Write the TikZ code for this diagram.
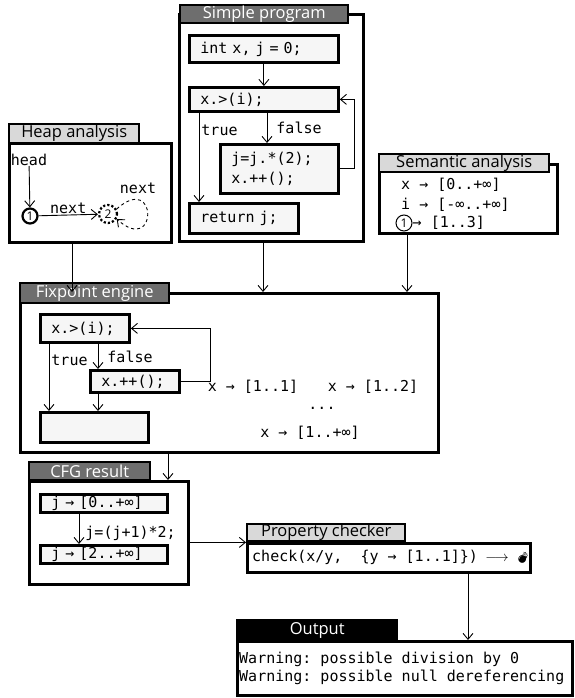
\documentclass[tikz,border=0pt]{standalone}
\usepackage{fontspec}
\setmainfont{Open Sans}
\setmonofont{DejaVu Sans Mono}
\newfontfamily\bombfont{Noto Emoji}
\usepackage{tikz}
\usetikzlibrary{arrows.meta,calc,positioning}

\definecolor{darktab}{HTML}{6E6E6E}
\definecolor{lighttab}{HTML}{D9D9D9}
\definecolor{boxfill}{HTML}{F6F6F6}

\newcommand{\code}{\ttfamily\fontsize{15}{20}\selectfont}

\tikzset{
  frame/.style={draw, fill=white, line width=2.8pt, anchor=north west, inner sep=0pt},
  tab/.style={draw, line width=2.4pt, anchor=north west, inner sep=0pt,
              font=\fontsize{16.5}{16.5}\selectfont},
  darktab/.style={tab, fill=darktab, text=white},
  lighttab/.style={tab, fill=lighttab},
  blacktab/.style={tab, fill=black, text=white},
  stmt/.style={draw, line width=2.8pt, fill=boxfill, anchor=north west,
               inner xsep=11pt, inner ysep=0pt, align=left, font=\code},
  txt/.style={inner sep=0pt, font=\code},
  num/.style={circle, draw, inner sep=0pt, font=\fontsize{12}{12}\selectfont},
  conn/.style={->, line width=0.9pt},
}

\begin{document}
\begin{tikzpicture}[x=1pt, y=-1pt, >={Straight Barb[length=6pt,width=10pt]}]
%
  \useasboundingbox (0,0) rectangle (574,698) ;
%
  % Simple program
  \node [frame, minimum width=184, minimum height=227] (simple) at (178,13) {} ;
  \node [darktab, minimum width=168, minimum height=18] (stab) at (179,4) {Simple program} ;
  \node [stmt, text width=127, minimum height=27] (sinit) at (188,34) {int x, j = 0;} ;
  \node [stmt, text width=127, minimum height=24] (scond) at (188,86) {x.>(i);} ;
  \node [stmt, text width=96, minimum height=49] (sbody) at (219,143) {j=j.*(2);\\x.++();} ;
  \node [stmt, text width=87, minimum height=30] (sret) at (188,202) {return j;} ;
%
  \draw [conn] (sinit) -- (scond) ;
  \draw [conn] (scond.south -| 267,0) -- (sbody.north -| 267,0) node [midway,right=9pt,txt] {false} ;
  \draw [conn] (scond.south -| 199,0) -- (sret.north -| 199,0) node [pos=0.2,right=2pt,txt] {true} ;
  \draw [conn] (sbody.east) -- ++(15,0) |- (scond.east) ;
%
  % Heap analysis
  \node [frame, minimum width=162, minimum height=99] (heap) at (8,142) {} ;
  \node [lighttab, minimum width=130, minimum height=19] (htab) at (8,123) {Heap analysis} ;
  \node [txt] (head) at (29,160) {head} ;
  \node [num, line width=2.2pt, minimum size=15] (n1) at (30,216) {1} ;
  \node [num, dotted, line width=2.2pt, minimum size=18] (n2) at (108,214) {2} ;
  \node [txt] (nloop) at (138,188) {next} ;
%
  \draw [conn] (head) -- (n1) ;
  \draw [conn] (n1) -- (n2) node [midway,above=1pt,txt] {next} ;
  \draw [conn, dashed] (n2.30) .. controls (158,172) and (158,256) .. (n2.-30) ;
%
  % Semantic analysis
  \node [frame, minimum width=178, minimum height=69] (sem) at (378,163) {} ;
  \node [lighttab, minimum width=170, minimum height=18] (semtab) at (378,153) {Semantic analysis} ;
  \node [txt, anchor=west] (sx) at (401,185) {x → [0..+∞]} ;
  \node [txt, anchor=west] (si) at (401,205) {i → [-∞..+∞]} ;
  \node [num, line width=1pt, minimum size=16] (s1) at (404,223) {1} ;
  \node [txt, anchor=west] (s1v) at (s1.east) {→ [1..3]} ;
%
  % Fixpoint engine
  \node [frame, minimum width=418, minimum height=159] (fix) at (19,292) {} ;
  \node [darktab, minimum width=149, minimum height=20] (ftab) at (19,282) {Fixpoint engine} ;
  \node [stmt, text width=67, minimum height=28] (fcond) at (39,313) {x.>(i);} ;
  \node [stmt, text width=67, minimum height=22] (fbody) at (89,369) {x.++();} ;
  \node [stmt, text width=86, minimum height=30] (fexit) at (39,411) {} ;
  \node [txt] (f1) at (253,387) {x → [1..1]} ;
  \node [txt] (f2) at (373,387) {x → [1..2]} ;
  \node [txt] (fdots) at (322,408) {...} ;
  \node [txt] (finf) at (310,433) {x → [1..+∞]} ;
%
  \draw [conn] (fcond.south -| 49,0) -- (fexit.north -| 49,0) node [pos=0.25,right=2pt,txt] {true} ;
  \draw [conn] (fcond.south -| 98,0) -- (fbody.north -| 98,0) node [midway,right=9pt,txt] {false} ;
  \draw [conn] (fbody.south -| 98,0) -- (fexit.north -| 98,0) ;
  \draw [conn] (fbody.east) -- ++(30,0) |- (fcond.east) ;
%
  % CFG result
  \node [frame, minimum width=159, minimum height=103] (cfg) at (28,480) {} ;
  \node [darktab, minimum width=121, minimum height=18] (ctab) at (28,461) {CFG result} ;
  \node [stmt, text width=105, minimum height=18] (c0) at (39,493) {j → [0..+∞]} ;
  \node [stmt, text width=105, minimum height=18] (c1) at (39,544) {j → [2..+∞]} ;
%
  \draw [conn] (c0.south -| 79,0) -- (c1.north -| 79,0) node [midway,right=6pt,yshift=-4pt,txt] {j=(j+1)*2;} ;
%
  % Property checker
  \node [frame, minimum width=283, minimum height=29] (prop) at (246,542) {} ;
  \node [lighttab, minimum width=158, minimum height=17] (ptab) at (246,523) {Property checker} ;
  \node [txt, anchor=west] (pchk) at (252,557)
    {check(x/y,~~\{y → [1..1]\})\enspace$\longrightarrow$\enspace{\bombfont\fontsize{11}{11}\selectfont 💣}} ;
%
  % Output
  \node [frame, minimum width=335, minimum height=54] (out) at (236,640) {} ;
  \node [blacktab, minimum width=160, minimum height=20] (otab) at (236,619) {Output} ;
  \node [txt, anchor=west, align=left, font=\ttfamily\fontsize{15}{18}\selectfont] (owarn) at (239,668)
    {Warning: possible division by 0\\Warning: possible null dereferencing} ;
%
  % flow between the stages
  \draw [conn] (heap.south -| 72,0) -- (fix.north -| 72,0) ;
  \draw [conn] (simple.south -| 263,0) -- (fix.north -| 263,0) ;
  \draw [conn] (sem.south -| 407,0) -- (fix.north -| 407,0) ;
  \draw [conn] (fix.south -| 168,0) -- (cfg.north -| 168,0) ;
  \draw [conn] (cfg.east |- ptab.south west) -- (ptab.south west) ;
  \draw [conn] (prop.south -| 468,0) -- (out.north -| 468,0) ;
%
\end{tikzpicture}
\end{document}
